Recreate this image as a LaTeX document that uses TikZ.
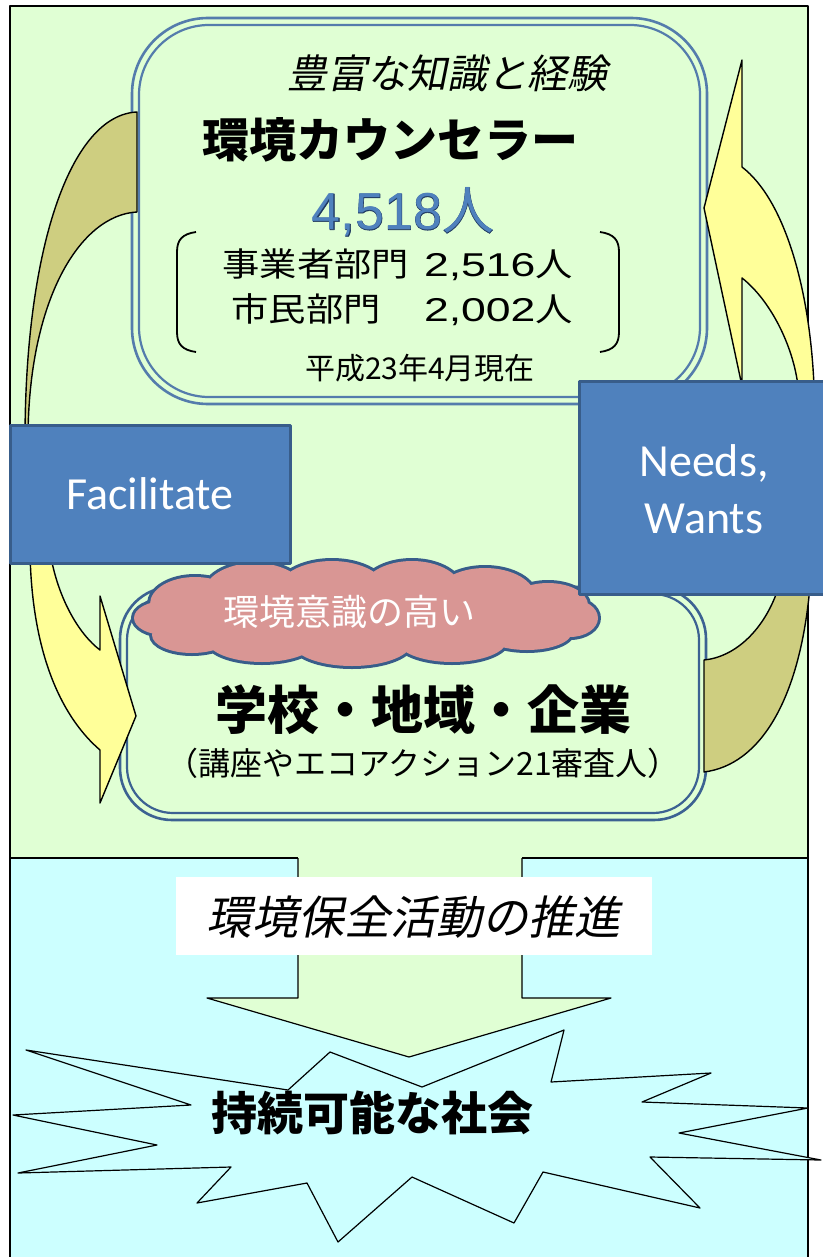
\documentclass[tikz,border=0pt]{standalone}
\usepackage{fontspec}
\newfontfamily\jp{Noto Sans CJK JP}
\newfontfamily\jpw[FakeStretch=1.13]{Noto Sans CJK JP}
\newfontfamily\jpit[FakeSlant=0.2]{Noto Sans CJK JP}
\newfontfamily\jpout[FakeBold=1.2]{Noto Sans CJK JP}
\newfontfamily\carl{Carlito}
\newfontfamily\lsans{Liberation Sans}
\newfontfamily\lsw[FakeStretch=1.35]{Liberation Sans}
\newfontfamily\lsout[FakeBold=1.2]{Liberation Sans}
\definecolor{bggreen}{RGB}{224,255,212}
\definecolor{cyanbg}{RGB}{204,255,255}
\definecolor{khaki}{RGB}{206,206,128}
\definecolor{yelarr}{RGB}{255,255,153}
\definecolor{boxblue}{RGB}{79,129,189}
\definecolor{boxedge}{RGB}{56,93,138}
\definecolor{topline}{RGB}{84,124,172}
\definecolor{botline}{RGB}{60,98,146}
\definecolor{cloudpink}{RGB}{217,150,148}
\definecolor{numblue}{RGB}{79,129,189}
\definecolor{numline}{RGB}{30,55,95}
\tikzset{
  lbl/.style={inner sep=0pt, text=black},
  arrshape/.style={draw=black, line width=1.4pt},
  bluebox/.style={fill=boxblue, draw=boxedge, line width=3pt},
}
\newcommand{\cloudpuffs}{%
 (366,615) ellipse [x radius=190pt, y radius=35pt]
 (165,618) ellipse [x radius=31pt, y radius=17pt]
 (195,604) ellipse [x radius=45pt, y radius=27pt]
 (255,595) ellipse [x radius=52pt, y radius=32pt]
 (332,592) ellipse [x radius=55pt, y radius=31pt]
 (412,591) ellipse [x radius=50pt, y radius=30pt]
 (485,597) ellipse [x radius=50pt, y radius=29pt]
 (548,605) ellipse [x radius=40pt, y radius=22pt]
 (570,618) ellipse [x radius=28pt, y radius=19pt]
 (192,635) ellipse [x radius=40pt, y radius=18pt]
 (262,640) ellipse [x radius=55pt, y radius=22pt]
 (352,642) ellipse [x radius=60pt, y radius=24pt]
 (452,640) ellipse [x radius=55pt, y radius=22pt]
 (527,632) ellipse [x radius=45pt, y radius=18pt]}
\begin{document}
\begin{tikzpicture}[x=1pt,y=-1pt,line join=round]
\useasboundingbox (0,0) rectangle (822,1257);
\fill[white] (0,0) rectangle (822,1257);
% backgrounds
\fill[bggreen] (10,6) rectangle (808,858);
\fill[cyanbg] (10,858) rectangle (808,1262);
% big down arrow
\fill[bggreen] (298,856) -- (298,998) -- (207,998) -- (409,1057) -- (611,998) -- (522,998) -- (522,856) -- cycle;
\draw[line width=1.2pt] (298,858) -- (298,998) -- (207,998) -- (409,1057) -- (611,998) -- (522,998) -- (522,858);
\draw[line width=1.2pt] (10,858) -- (298,858) (522,858) -- (808,858);
\draw[line width=1.6pt] (10,6) rectangle (808,1262);
% label on arrow
\node[fill=white, minimum width=476pt, minimum height=78pt, inner sep=0pt] (promo) at (414,916) {};
\node[lbl, font=\jpit\fontsize{46}{50}\selectfont] (promotxt) at (413,917) {環境保全活動の推進};
% explosion
\filldraw[fill=cyanbg, draw=black, line width=1.2pt]
 (330,1052) -- (422,1087) -- (564,1030) -- (551,1082) -- (711,1073) -- (642,1102)
 -- (808,1108) -- (679,1133) -- (821,1160) -- (650,1157) -- (700,1208) -- (543,1172)
 -- (514,1223) -- (412,1177) -- (338,1242) -- (307,1183) -- (197,1203) -- (231,1167)
 -- (18,1173) -- (157,1145) -- (13,1115) -- (191,1105) -- (26,1050) -- (288,1090) -- cycle;
\node[lbl, font=\jp\bfseries\fontsize{46}{50}\selectfont] (society) at (372,1113) {持続可能な社会};
% top box
\draw[topline, line width=2.6pt, rounded corners=76pt] (132,18) rectangle (707,404);
\draw[topline, line width=2.2pt, rounded corners=70pt] (139,25) rectangle (700,397);
\node[lbl, font=\jpit\fontsize{40}{44}\selectfont] (exp) at (447,73) {豊富な知識と経験};
\node[lbl, font=\jp\bfseries\fontsize{47}{50}\selectfont] (counselor) at (390,140) {環境カウンセラー};
\node[lbl, text=numline, font=\fontsize{52}{56}\selectfont] (numo) at (403,212) {\lsout 4,518\jpout 人};
\node[lbl, text=numblue, font=\fontsize{52}{56}\selectfont] (num) at (403,212) {\lsans 4,518\jp 人};
\draw[line width=1.8pt] (196,232) .. controls (182,234) and (177,240) .. (177,252) -- (177,332) .. controls (177,344) and (182,350) .. (196,352);
\draw[line width=1.8pt] (600,232) .. controls (614,234) and (619,240) .. (619,252) -- (619,332) .. controls (619,344) and (614,350) .. (600,352);
\node[lbl, anchor=east, font=\fontsize{33}{36}\selectfont] (biz) at (573,265) {\jpw 事業者部門\hspace{15pt}\lsw 2,516\jpw 人};
\node[lbl, anchor=east, font=\fontsize{33}{36}\selectfont] (cit) at (573,310) {\jpw 市民部門　\hspace{6pt}\lsw 2,002\jpw 人};
\node[lbl, font=\jp\fontsize{30}{34}\selectfont] (date) at (420,368) {平成23年4月現在};
% bottom box
\draw[botline, line width=2.6pt, rounded corners=52pt] (120,587) rectangle (706,820);
\draw[botline, line width=2.2pt, rounded corners=46pt] (127,594) rectangle (699,813);
\node[lbl, font=\jp\bfseries\fontsize{52}{56}\selectfont] (orgs) at (423,710) {学校・地域・企業};
\node[lbl, font=\jp\fontsize{32}{36}\selectfont] (sub) at (423,763) {（講座やエコアクション21審査人）};
% left curved arrow
\filldraw[fill=khaki, arrshape] (137,112) .. controls (70,115) and (25,250) .. (25,440) -- (28,440) .. controls (28,300) and (80,215) .. (137,212) -- cycle;
\filldraw[fill=yelarr, arrshape] (30,552) .. controls (32,660) and (65,720) .. (100,750) -- (100,803) -- (136,716) -- (100,596) -- (100,650) .. controls (80,635) and (58,600) .. (50,552) -- cycle;
% right curved arrow
\filldraw[fill=yelarr, arrshape] (742,60) -- (704,208) -- (742,386) -- (742,278) .. controls (770,300) and (793,345) .. (798,386) -- (814,386) .. controls (810,290) and (785,200) .. (742,167) -- cycle;
\filldraw[fill=khaki, arrshape] (779,586) .. controls (765,630) and (735,657) .. (704,660) -- (704,772) .. controls (760,765) and (800,700) .. (810,586) -- cycle;
% cloud
\draw[boxedge, line width=6pt] \cloudpuffs;
\fill[cloudpink] \cloudpuffs;
\node[lbl, text=white, font=\jp\fontsize{36}{40}\selectfont] (aware) at (349,612) {環境意識の高い};
% blue boxes
\node[bluebox, minimum width=280pt, minimum height=138pt, inner sep=0pt, text=white, font=\carl\fontsize{46}{50}\selectfont] (fac) at (150,494) {Facilitate};
\node[bluebox, minimum width=250pt, minimum height=213pt, inner sep=0pt, anchor=north west] (needs) at (578,380) {};
\node[lbl, text=white, align=center, font=\carl\fontsize{46}{57}\selectfont] (needstxt) at (704,489) {Needs,\\Wants};
\end{tikzpicture}
\end{document}
